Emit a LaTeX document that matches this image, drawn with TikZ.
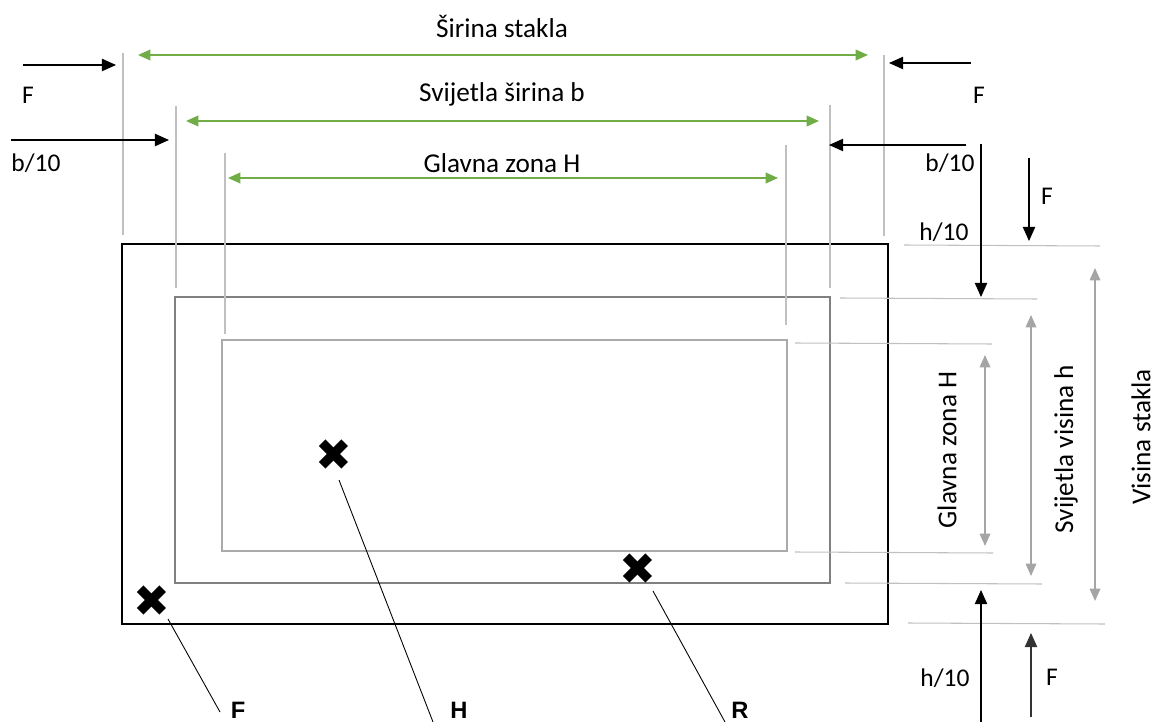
\documentclass[tikz,border=0pt]{standalone}
\usepackage{fontspec}
\setmainfont{Carlito}
\newfontfamily\crossfont{DejaVu Sans}
\newfontfamily\tagfont{Liberation Sans}
\usetikzlibrary{arrows.meta}
\definecolor{dimgreen}{HTML}{70AD47}
\definecolor{dimgray}{HTML}{A5A5A5}
\definecolor{extgray}{HTML}{C0C0C0}
\definecolor{midgray}{HTML}{808080}
\definecolor{ingray}{HTML}{AAAAAA}

\begin{document}
\begin{tikzpicture}[x=0.02cm,y=-0.02cm,
    every node/.style={font=\fontsize{14.5}{16}\selectfont, inner sep=0pt},
    dimtext/.style={font=\fontsize{15.5}{17}\selectfont},
    greendim/.style={draw=dimgreen, line width=1.1pt,
        {Triangle[length=7pt,width=6pt]}-{Triangle[length=7pt,width=6pt]}},
    graydim/.style={draw=dimgray, line width=0.9pt,
        {Triangle[length=7pt,width=6pt]}-{Triangle[length=7pt,width=6pt]}},
    force/.style={draw=black, line width=0.7pt, -{Triangle[length=8pt,width=7pt]}},
    ext/.style={draw=extgray, line width=0.6pt},
    xmark/.style={font=\crossfont\fontsize{25}{25}\selectfont},
    tag/.style={font=\tagfont\bfseries\fontsize{13.5}{15}\selectfont},
    leader/.style={draw=black, line width=0.5pt}]
    \useasboundingbox (0,0) rectangle (1155,722);
    % glass, clear opening and main zone
    \draw[line width=1.4pt] (122,244) rectangle (888,624);
    \draw[midgray, line width=1.1pt] (175,297) rectangle (830,583);
    \draw[ingray, line width=1.1pt] (222,340) rectangle (787,551);
    % extension lines, top
    \draw[ext] (123,53) -- (123,235);
    \draw[ext] (176,106) -- (176,288);
    \draw[ext] (225,153) -- (225,334);
    \draw[ext] (786,145) -- (786,325);
    \draw[ext] (830,105) -- (830,288);
    \draw[ext] (884,55) -- (884,236);
    % extension lines, right
    \draw[ext] (904,245) -- (1100,246);
    \draw[ext] (840,298) -- (1037,299);
    \draw[ext] (795,343) -- (992,344);
    \draw[ext] (795,552) -- (993,553);
    \draw[ext] (845,583) -- (1042,584);
    \draw[ext] (908,623) -- (1105,624);
    % widths
    \coordinate (wL) at (138,55);  \coordinate (wR) at (868,55);
    \coordinate (bL) at (186,121); \coordinate (bR) at (819,121);
    \coordinate (zL) at (228,178); \coordinate (zR) at (778,178);
    \draw[greendim] (wL) -- (wR);
    \draw[greendim] (bL) -- (bR);
    \draw[greendim] (zL) -- (zR);
    \node[dimtext] (wlab) at (502,26) {Širina stakla};
    \node[dimtext] (blab) at (502,94) {Svijetla širina b};
    \node[dimtext] (zlab) at (502,163) {Glavna zona H};
    % heights
    \coordinate (zT) at (985,355);  \coordinate (zB) at (985,546);
    \coordinate (hT) at (1031,315); \coordinate (hB) at (1031,576);
    \coordinate (gT) at (1095,268); \coordinate (gB) at (1095,601);
    \draw[graydim] (zT) -- (zB);
    \draw[graydim] (hT) -- (hB);
    \draw[graydim] (gT) -- (gB);
    \node[dimtext, rotate=90] (zvlab) at (947,450) {Glavna zona H};
    \node[dimtext, rotate=90] (hvlab) at (1066,449) {Svijetla visina h};
    \node[dimtext, rotate=90, anchor=south] (gvlab) at (1151,437) {Visina stakla};
    % edge zones, left and right
    \draw[force] (23,65) -- (116,65);
    \draw[force] (11,140) -- (169,140);
    \draw[force] (971,63) -- (889,63);
    \draw[force] (966,145) -- (829,145);
    \node (fl) at (28,95) {F};
    \node (bl) at (36,163) {b/10};
    \node (fr) at (979,95) {F};
    \node (br) at (950,163) {b/10};
    % edge zones, top and bottom
    \draw[force] (981,144) -- (981,297);
    \draw[force] (1029,158) -- (1029,241);
    \draw[force] (981,730) -- (981,590);
    \draw[force, draw=black!80] (1031,717) -- (1031,633);
    \node (ft) at (1047,196) {F};
    \node (ht) at (944,232) {h/10};
    \node (hb) at (945,678) {h/10};
    \node (fb) at (1052,677) {F};
    % measuring points
    \node[xmark] (xH) at (334,455) {✖};
    \node[xmark] (xR) at (638,569) {✖};
    \node[xmark] (xF) at (152,601) {✖};
    \node[tag] (tF) at (238,710) {F};
    \node[tag] (tH) at (459,710) {H};
    \node[tag] (tR) at (740,710) {R};
    \coordinate (sH) at (339,480); \coordinate (lH) at (433,722);
    \coordinate (sR) at (653,591); \coordinate (lR) at (725,722);
    \coordinate (sF) at (168,619); \coordinate (lF) at (220,712);
    \draw[leader] (sH) -- (lH);
    \draw[leader] (sR) -- (lR);
    \draw[leader] (sF) -- (lF);
\end{tikzpicture}
\end{document}
